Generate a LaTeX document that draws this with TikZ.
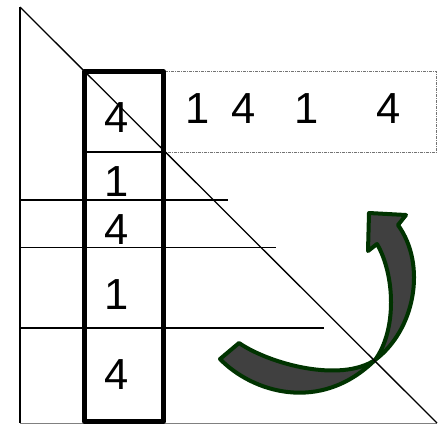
\documentclass[tikz,border=0pt]{standalone}
\usepackage{fontspec}
\setmainfont{Liberation Sans}
\definecolor{arrowfill}{HTML}{404040}
\definecolor{arrowline}{HTML}{003300}
\begin{document}
\begin{tikzpicture}[x=1pt,y=-1pt,
  thinline/.style={line width=1.3pt,black},
  thickbox/.style={line width=4.6pt,black,line join=round},
  dotbox/.style={line width=0.9pt,black!55,dash pattern=on 3pt off 1pt on 1pt off 1pt},
  digit/.style={inner sep=0pt,anchor=base,font=\fontsize{43.5}{43.5}\selectfont},
  curvedarrow/.style={line width=4pt,draw=arrowline,fill=arrowfill,line join=round}]
\useasboundingbox (0,0) rectangle (441,424);
% frame coordinates
\coordinate (top) at (20,7);
\coordinate (botleft) at (20,423);
\coordinate (botright) at (437,423);
% horizontal guide lines
\coordinate (h1a) at (20,200); \coordinate (h1b) at (228,200);
\coordinate (h2a) at (20,247.5); \coordinate (h2b) at (276,247.5);
\coordinate (h3a) at (20,328); \coordinate (h3b) at (324,328);
\draw[line width=1pt,gray] (botleft) -- (botright);
\draw[thinline] (top) -- (botleft);
\draw[thinline] (h1a) -- (h1b);
\draw[thinline] (h2a) -- (h2b);
\draw[thinline] (h3a) -- (h3b);
% dotted row box
\draw[dotbox] (164,71.5) rectangle (436.5,152);
% column box
\coordinate (c1) at (84.5,152); \coordinate (c2) at (163.7,152);
\draw[thinline] (c1) -- (c2);
\draw[thickbox] (84.5,71.5) rectangle (163.7,421.5);
% column digits
\node[digit] (d1) at (116.5,132) {4};
\node[digit] (d2) at (116.5,196) {1};
\node[digit] (d3) at (116.5,244) {4};
\node[digit] (d4) at (116.5,309) {1};
\node[digit] (d5) at (116.5,389) {4};
% row digits
\node[digit] (r1) at (198,123.3) {1};
\node[digit] (r2) at (243.3,123.3) {4};
\node[digit] (r3) at (307,123.3) {1};
\node[digit] (r4) at (389,123.3) {4};
% curved arrow
\draw[curvedarrow] (220,359) .. controls (252,392) and (320,414) .. (375,360)
  .. controls (415,330) and (427,265) .. (398,225)
  -- (406,215) -- (369,213) -- (368,251) -- (377,244)
  .. controls (395,275) and (397,330) .. (375,360)
  .. controls (340,383) and (270,364) .. (239,343) -- cycle;
% diagonal
\draw[thinline] (top) -- (botright);
\end{tikzpicture}
\end{document}
